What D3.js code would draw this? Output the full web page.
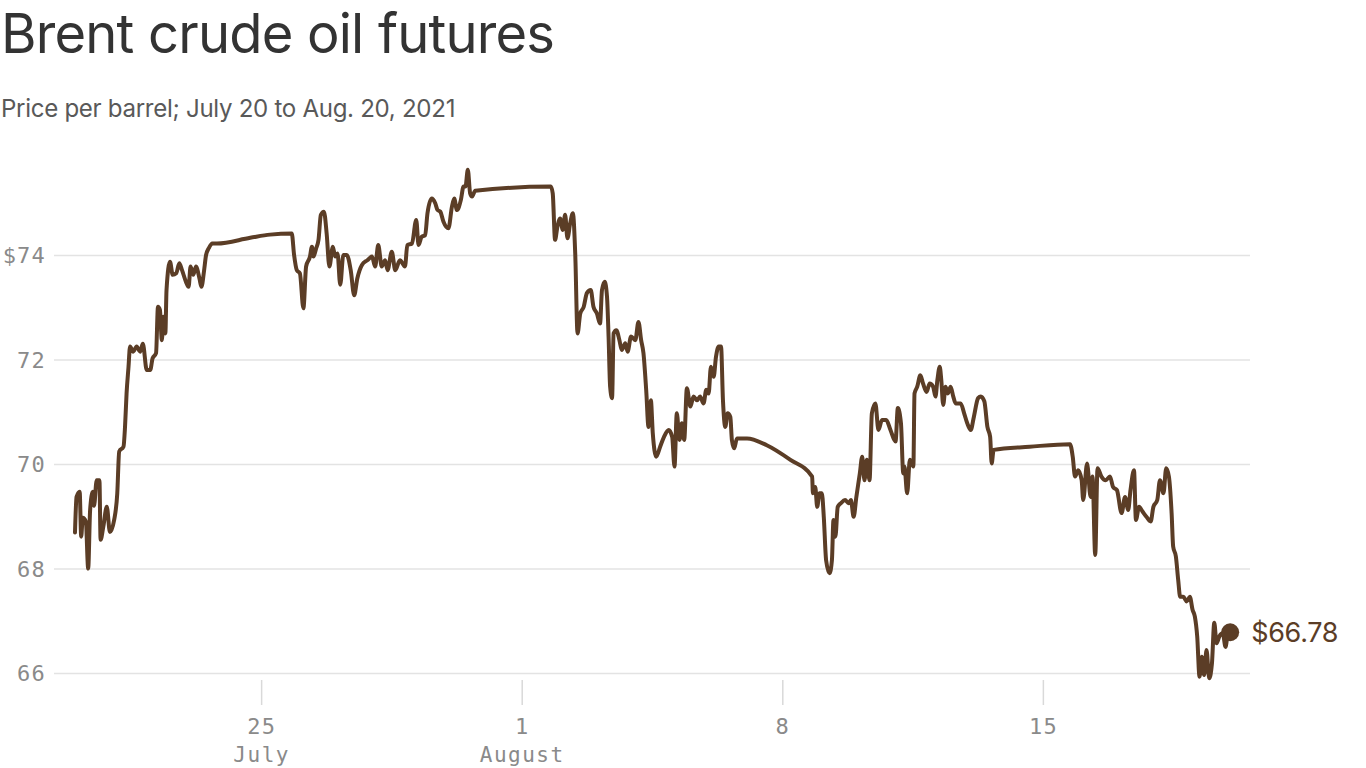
<!DOCTYPE html>
<html>
<head>
<meta charset="utf-8">
<script src="https://cdn.jsdelivr.net/npm/d3@7"></script>
<style>
  html, body { margin: 0; padding: 0; background: #fff; }
  svg { display: block; }
</style>
</head>
<body>
<svg id="chart" width="1366" height="768"></svg>
<script>
const title = "Brent crude oil futures";
const subtitle = "Price per barrel; July 20 to Aug. 20, 2021";

const yTicks = [66, 68, 70, 72, 74];
const xTickDates = ["2021-07-25", "2021-08-01", "2021-08-08", "2021-08-15"];
const xTickLabels = ["25", "1", "8", "15"];
const monthLabels = ["July", "August", "", ""];

const times = [
"07-20T00:00","07-20T01:00","07-20T03:00","07-20T04:00","07-20T05:00","07-20T07:00","07-20T08:30","07-20T09:45",
"07-20T11:30","07-20T12:15","07-20T14:00","07-20T15:45","07-20T16:30","07-20T18:15","07-20T20:30","07-20T22:30",
"07-21T01:15","07-21T03:15","07-21T04:30","07-21T07:15","07-21T08:15","07-21T09:15","07-21T10:30","07-21T11:30",
"07-21T13:30","07-21T15:45","07-21T18:00","07-21T19:45","07-21T22:15","07-22T00:30","07-22T02:00","07-22T04:15",
"07-22T05:30","07-22T06:45","07-22T08:00","07-22T09:00","07-22T10:15","07-22T11:00","07-22T13:15","07-22T15:00",
"07-22T17:15","07-22T19:15","07-22T21:00","07-22T23:30","07-23T01:15","07-23T02:30","07-23T04:15","07-23T06:00",
"07-23T08:15","07-23T09:30","07-23T11:15","07-23T12:30","07-23T14:15","07-23T16:30","07-23T19:30","07-24T17:00",
"07-25T05:45","07-25T19:45","07-25T21:15","07-25T23:00","07-26T01:00","07-26T03:15","07-26T05:00","07-26T07:30",
"07-26T08:45","07-26T09:45","07-26T11:30","07-26T13:00","07-26T14:30","07-26T16:30","07-26T18:15","07-26T20:00",
"07-26T22:15","07-26T23:45","07-27T01:15","07-27T03:00","07-27T05:00","07-27T07:15","07-27T09:45","07-27T12:00",
"07-27T14:00","07-27T17:00","07-27T20:30","07-27T23:30","07-28T01:30","07-28T03:30","07-28T05:45","07-28T08:00",
"07-28T09:30","07-28T12:15","07-28T14:30","07-28T17:30","07-28T20:45","07-28T22:15","07-29T01:15","07-29T04:00",
"07-29T05:30","07-29T07:30","07-29T09:45","07-29T11:15","07-29T14:00","07-29T16:15","07-29T17:45","07-29T19:30",
"07-29T21:30","07-30T00:45","07-30T03:00","07-30T04:30","07-30T06:15","07-30T08:45","07-30T10:30","07-30T11:45",
"07-30T13:15","07-30T14:45","07-30T16:00","07-30T18:00","08-01T18:45","08-01T20:00","08-01T21:30","08-01T23:00",
"08-02T00:45","08-02T02:30","08-02T04:00","08-02T05:30","08-02T07:15","08-02T09:00","08-02T10:30","08-02T12:00",
"08-02T13:45","08-02T16:00","08-02T18:00","08-02T20:30","08-02T22:15","08-03T00:30","08-03T02:30","08-03T03:45",
"08-03T05:30","08-03T07:00","08-03T08:00","08-03T09:00","08-03T10:15","08-03T11:15","08-03T13:00","08-03T15:00",
"08-03T16:30","08-03T18:45","08-03T20:15","08-03T22:30","08-04T01:15","08-04T03:15","08-04T05:00","08-04T06:30",
"08-04T08:15","08-04T09:45","08-04T11:15","08-04T12:30","08-04T14:45","08-04T17:15","08-04T19:45","08-04T22:45",
"08-05T01:00","08-05T02:30","08-05T04:00","08-05T05:45","08-05T07:15","08-05T08:45","08-05T10:30","08-05T12:45",
"08-05T14:45","08-05T17:00","08-05T19:00","08-05T21:15","08-05T23:00","08-06T00:30","08-06T02:00","08-06T03:45",
"08-06T05:15","08-06T07:00","08-06T08:30","08-06T09:45","08-06T11:15","08-06T12:45","08-06T14:30","08-06T15:30",
"08-06T17:00","08-06T18:45","08-07T01:15","08-07T14:00","08-08T05:15","08-08T19:15","08-08T19:45","08-08T21:15",
"08-08T22:30","08-09T00:00","08-09T01:30","08-09T02:45","08-09T04:15","08-09T06:30","08-09T08:00","08-09T09:00",
"08-09T10:15","08-09T11:45","08-09T13:45","08-09T16:30","08-09T18:45","08-09T20:15","08-09T22:00","08-09T23:45",
"08-10T02:00","08-10T03:30","08-10T05:00","08-10T06:30","08-10T08:15","08-10T09:45","08-10T12:00","08-10T14:00",
"08-10T16:15","08-10T19:00","08-10T21:45","08-11T01:00","08-11T02:30","08-11T04:30","08-11T06:00","08-11T06:45",
"08-11T08:30","08-11T10:15","08-11T12:30","08-11T13:15","08-11T15:00","08-11T17:00","08-11T18:45","08-11T21:00",
"08-11T23:00","08-12T01:15","08-12T02:45","08-12T04:00","08-12T05:30","08-12T06:30","08-12T07:45","08-12T09:15",
"08-12T10:45","08-12T12:30","08-12T14:15","08-12T15:45","08-12T19:00","08-12T21:15","08-12T23:15","08-13T01:30",
"08-13T03:30","08-13T06:15","08-13T08:00","08-13T10:15","08-13T12:15","08-13T14:00","08-13T15:00","08-13T16:15",
"08-14T15:30","08-15T17:30","08-15T19:15","08-15T20:45","08-15T22:45","08-16T01:00","08-16T02:00","08-16T04:30",
"08-16T06:45","08-16T08:00","08-16T09:45","08-16T11:15","08-16T13:45","08-16T16:30","08-16T19:15","08-16T21:15",
"08-16T23:45","08-17T02:45","08-17T05:00","08-17T07:00","08-17T08:30","08-17T10:45","08-17T12:00","08-17T14:00",
"08-17T16:15","08-17T18:45","08-17T21:30","08-17T23:15","08-18T01:45","08-18T03:30","08-18T05:45","08-18T07:30",
"08-18T09:15","08-18T11:00","08-18T12:00","08-18T13:45","08-18T15:15","08-18T16:30","08-18T18:30","08-18T20:45",
"08-18T22:45","08-19T00:30","08-19T02:00","08-19T03:30","08-19T05:00","08-19T06:30","08-19T08:00","08-19T09:30",
"08-19T11:15","08-19T13:00","08-19T14:30","08-19T16:00","08-19T17:45","08-19T20:00","08-19T21:45","08-19T23:00",
"08-20T00:45"
];

const prices = [
68.69,69.37,69.47,68.61,68.97,68.90,68.00,69.12,
69.47,69.20,69.69,69.69,68.55,68.80,69.18,68.70,
68.93,69.44,70.24,70.33,70.71,71.35,71.86,72.25,
72.15,72.25,72.15,72.30,71.80,71.80,72.02,72.12,
73.01,72.95,72.37,72.82,72.50,73.33,73.87,73.62,
73.65,73.84,73.71,73.49,73.39,73.78,73.62,73.78,
73.55,73.39,73.71,74.00,74.13,74.22,74.22,74.33,
74.39,74.41,74.00,73.71,73.65,72.98,73.78,73.97,
74.16,73.97,74.13,74.29,74.77,74.83,74.41,73.78,
74.16,73.97,74.03,73.43,74.00,74.00,73.71,73.23,
73.55,73.81,73.90,73.97,73.78,74.19,73.78,73.90,
73.71,74.06,73.71,73.90,73.78,74.19,74.22,74.67,
74.19,74.35,74.38,74.80,75.08,74.99,74.86,74.83,
74.64,74.51,74.92,75.08,74.86,75.05,75.31,75.31,
75.63,75.18,75.12,75.23,75.31,75.18,74.29,74.54,
74.70,74.48,74.77,74.32,74.61,74.80,74.03,72.50,
72.88,73.01,73.27,73.33,73.01,72.88,72.69,73.33,
73.49,73.20,72.44,71.48,71.26,72.50,72.56,72.37,
72.18,72.31,72.15,72.44,72.37,72.72,72.37,72.12,
71.42,70.71,71.22,70.59,70.14,70.33,70.52,70.65,
70.52,69.95,70.97,70.46,70.78,70.46,71.45,71.10,
71.29,71.22,71.29,71.16,71.42,71.35,71.86,71.67,
72.05,72.25,72.25,71.22,70.71,70.97,70.90,70.46,
70.30,70.49,70.49,70.36,70.08,69.76,69.44,69.56,
69.18,69.44,69.44,68.99,68.16,67.91,68.16,68.93,
68.61,69.18,69.25,69.31,69.25,69.31,68.99,69.37,
69.82,70.14,69.69,70.08,69.69,70.97,71.16,70.65,
70.84,70.84,70.65,70.43,71.07,70.78,69.82,69.95,
69.44,70.08,69.95,71.35,71.48,71.70,71.54,71.38,
71.54,71.48,71.29,71.61,71.86,71.61,71.13,71.48,
71.35,71.48,71.29,71.16,71.16,70.97,70.78,70.65,
70.90,71.26,71.29,71.20,70.71,70.52,70.01,70.27,
70.33,70.38,70.14,69.76,69.88,69.69,69.31,70.01,
69.37,69.76,68.26,69.92,69.76,69.69,69.76,69.56,
69.50,69.06,69.37,69.12,69.50,69.88,68.93,69.18,
69.09,68.99,68.90,69.18,69.31,69.69,69.44,69.92,
69.76,69.06,68.42,68.23,67.78,67.46,67.46,67.37,
67.46,67.21,67.08,66.70,65.93,66.31,65.96,66.44,
65.90,66.18,66.96,66.57,66.70,66.76,66.50,66.70,
66.78
];

const parseTime = d3.timeParse("%Y-%m-%dT%H:%M");
const parseDay = d3.timeParse("%Y-%m-%d");
const data = times.map((t, i) => ({ date: parseTime("2021-" + t), value: prices[i] }));

const svg = d3.select("#chart");
const brown = "#5b3d26";

const x = d3.scaleTime()
  .domain([parseDay("2021-07-20"), parseDay("2021-08-20")])
  .range([75, 1229]);
const y = d3.scaleLinear().domain([66, 74]).range([673, 255]);

// Title & subtitle
function fitText(sel, width) {
  const len = sel.node().getComputedTextLength();
  const fs = parseFloat(sel.attr("font-size"));
  sel.attr("font-size", fs * width / len);
}
const t1 = svg.append("text").attr("x", 1).attr("y", 53)
  .attr("font-family", "Inter, 'Noto Sans', sans-serif").attr("font-size", 48)
  .attr("fill", "#333").attr("letter-spacing", -0.8).text(title);
fitText(t1, 551);
const t2 = svg.append("text").attr("x", 1).attr("y", 117)
  .attr("font-family", "Inter, 'Noto Sans', sans-serif").attr("font-size", 22)
  .attr("fill", "#595959").attr("letter-spacing", -0.3).text(subtitle);
fitText(t2, 453);

// gridlines
const mono = "'DejaVu Sans Mono', 'Liberation Mono', monospace";
const yAxis = d3.axisLeft(y).tickValues(yTicks)
  .tickSize(-(1250 - 54)).tickPadding(8)
  .tickFormat(d => d === 74 ? "$" + d : String(d));
const gy = svg.append("g").attr("transform", "translate(54,0)").call(yAxis);
gy.select(".domain").remove();
gy.selectAll(".tick line").attr("stroke", "#e3e3e3").attr("stroke-width", 1.5);
gy.selectAll(".tick text").attr("font-family", mono).attr("font-size", 22)
  .attr("fill", "#8a8a8a").attr("x", -8).attr("dy", "0.35em").attr("letter-spacing", 1.2);

// x axis
const xDates = xTickDates.map(parseDay);
const xAxis = d3.axisBottom(x).tickValues(xDates).tickSize(25).tickPadding(12)
  .tickFormat((d, i) => xTickLabels[i]);
const gx = svg.append("g").attr("transform", "translate(0,680)").call(xAxis);
gx.select(".domain").remove();
gx.selectAll(".tick line").attr("stroke", "#d9d9d9").attr("stroke-width", 1.5);
gx.selectAll(".tick text").attr("font-family", mono).attr("font-size", 22)
  .attr("fill", "#8a8a8a").attr("y", 54).attr("dy", 0).attr("letter-spacing", 1.2);
gx.selectAll(".tick").append("text")
  .attr("y", 82).attr("text-anchor", "middle")
  .attr("font-family", mono).attr("font-size", 21).attr("fill", "#8a8a8a")
  .attr("letter-spacing", 1.5)
  .text((d, i) => monthLabels[i]);

// line
const line = d3.line().x(d => x(d.date)).y(d => y(d.value)).curve(d3.curveMonotoneX);
svg.append("path").datum(data).attr("d", line)
  .attr("fill", "none").attr("stroke", brown).attr("stroke-width", 4)
  .attr("stroke-linejoin", "round").attr("stroke-linecap", "round");

// end dot and label
const last = data[data.length - 1];
svg.append("circle").attr("cx", x(last.date)).attr("cy", y(last.value)).attr("r", 9).attr("fill", brown);
svg.append("text").attr("x", x(last.date) + 21).attr("y", y(last.value)).attr("dy", "0.36em")
  .attr("font-family", "Inter, 'Noto Sans', sans-serif").attr("font-size", 27)
  .attr("fill", brown).attr("letter-spacing", -0.3).text("$" + d3.format(".2f")(last.value));
</script>
</body>
</html>
